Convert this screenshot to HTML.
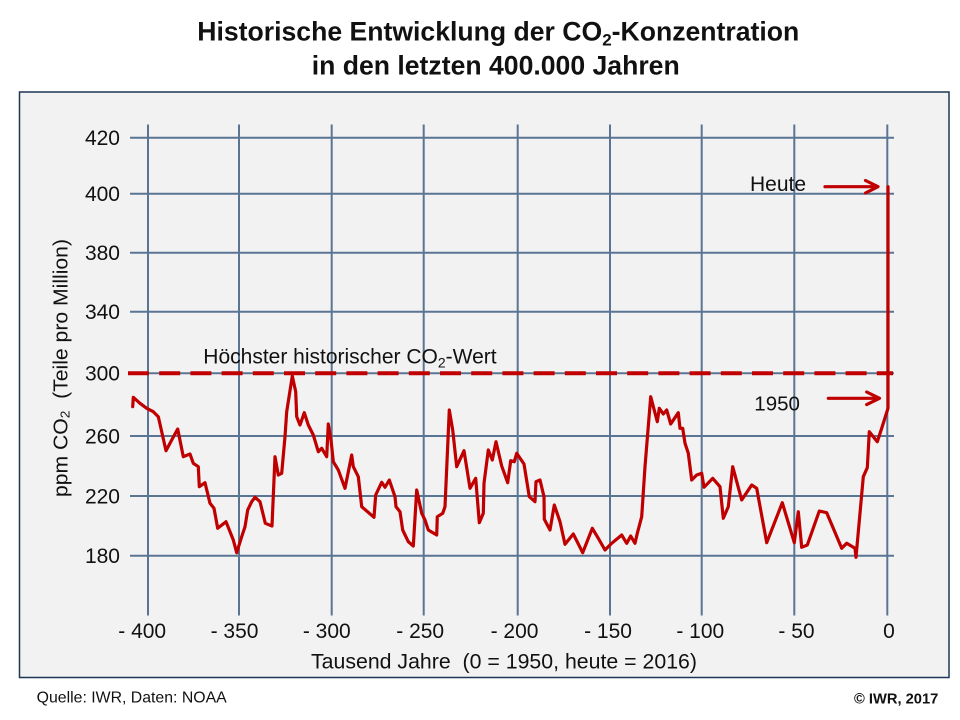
<!DOCTYPE html>
<html><head><meta charset="utf-8"><style>
html,body{margin:0;padding:0;background:#fff;}
svg{display:block;}
text{font-family:"Liberation Sans",Arial,sans-serif;fill:#111;}
</style></head><body>
<svg width="960" height="720" viewBox="0 0 960 720" xmlns="http://www.w3.org/2000/svg">
<rect x="0" y="0" width="960" height="720" fill="#fff"/>
<!-- title -->
<text x="197.3" y="40.7" font-size="26.6" font-weight="bold">Historische Entwicklung der CO<tspan font-size="17" dy="5">2</tspan><tspan dy="-5">-Konzentration</tspan></text>
<text x="311.7" y="74.3" font-size="26.6" font-weight="bold">in den letzten 400.000 Jahren</text>
<!-- frame -->
<rect x="19.5" y="92" width="929.5" height="585.5" fill="#f2f2f2" stroke="#1d3657" stroke-width="1.5"/>
<!-- grid -->
<g stroke="#5a7594" stroke-width="2">
<line x1="130" y1="137.7" x2="894" y2="137.7"/>
<line x1="130" y1="193.7" x2="894" y2="193.7"/>
<line x1="130" y1="252.7" x2="894" y2="252.7"/>
<line x1="130" y1="311.7" x2="894" y2="311.7"/>
<line x1="130" y1="373.3" x2="894" y2="373.3"/>
<line x1="130" y1="436" x2="894" y2="436"/>
<line x1="130" y1="496" x2="894" y2="496"/>
<line x1="130" y1="555.7" x2="894" y2="555.7"/>
<line x1="148" y1="124.5" x2="148" y2="615.5"/>
<line x1="239" y1="124.5" x2="239" y2="615.5"/>
<line x1="331.7" y1="124.5" x2="331.7" y2="615.5"/>
<line x1="423.7" y1="124.5" x2="423.7" y2="615.5"/>
<line x1="517.7" y1="124.5" x2="517.7" y2="615.5"/>
<line x1="610" y1="124.5" x2="610" y2="615.5"/>
<line x1="701.7" y1="124.5" x2="701.7" y2="615.5"/>
<line x1="794.3" y1="124.5" x2="794.3" y2="615.5"/>
<line x1="887.3" y1="124.5" x2="887.3" y2="615.5"/>
</g>
<!-- y tick labels -->
<g font-size="21" text-anchor="end">
<text x="120" y="145">420</text>
<text x="120" y="201">400</text>
<text x="120" y="260">380</text>
<text x="120" y="319">340</text>
<text x="120" y="380.6">300</text>
<text x="120" y="443.3">260</text>
<text x="120" y="503.3">220</text>
<text x="120" y="563">180</text>
</g>
<!-- x tick labels -->
<g font-size="21" text-anchor="middle">
<text x="142.2" y="638">- 400</text>
<text x="234.5" y="638">- 350</text>
<text x="326.8" y="638">- 300</text>
<text x="420.2" y="638">- 250</text>
<text x="514.5" y="638">- 200</text>
<text x="608" y="638">- 150</text>
<text x="700.3" y="638">- 100</text>
<text x="796.5" y="638">- 50</text>
<text x="889" y="638">0</text>
</g>
<text x="311" y="668.3" font-size="21" textLength="386" lengthAdjust="spacingAndGlyphs" xml:space="preserve">Tausend Jahre  (0 = 1950, heute = 2016)</text>
<!-- y axis label -->
<text transform="translate(67.5,497) rotate(-90)" font-size="20" textLength="258" lengthAdjust="spacingAndGlyphs" xml:space="preserve">ppm CO<tspan font-size="13" dy="2">2</tspan><tspan dy="-2">  (Teile pro Million)</tspan></text>
<!-- dashed max line -->
<line x1="128" y1="373.3" x2="893" y2="373.3" stroke="#c00000" stroke-width="4" stroke-dasharray="21 10.2"/>
<text x="203.3" y="363.3" font-size="21">Höchster historischer CO<tspan font-size="14" dy="4">2</tspan><tspan dy="-4">-Wert</tspan></text>
<!-- data -->
<polyline fill="none" stroke="#c00000" stroke-width="3.2" stroke-linejoin="round" stroke-linecap="round" points="
132.7,406.7 133.3,397.3 140,403.3 146.7,408.3 153.3,411.7 158.3,416.7 161.7,431.7 166,450.7 171.7,440 177.7,429 183.3,456.7 190,454 193.3,463.3 198.3,466.7 199.3,486.7 205,482.7 210,503.3 214,508.3 217.7,528.3 226,521.7 230,531.7 233.3,540 236.7,552.7 241.7,536.7 245,526.7 247.7,510 251.7,501.7 255,497.3 260,501.7 265.3,523.3 272,526 275,456.7 278.3,475 281.7,473.3 285,436.7 286.7,411.7 292.3,376 295.7,391.7 296.7,416.7 300,425 304.3,412.7 308.3,425 313.3,435 318.3,451.7 321.7,448.3 326.7,456.7 328.3,424 331,440 333.3,461.7 338.3,470 345,488.3 351.7,455 353.3,466.7 358.3,476.7 361.7,506.7 374,517.3 375.7,495 381.7,482.3 385,487.3 389.3,480 395,496.7 396,506.7 400,511.7 402.7,530 408.3,541.7 413.3,546 416.7,490 421.7,513.3 425,520 428.3,530 436.7,535 437.3,516.7 442.7,513.3 445,506.7 449.3,410 452.7,430 456.7,466.7 464,450.7 470,488.3 475.7,478.3 479.3,522.7 483.3,513.3 484,483.3 488.3,450 492.3,460 496,441.7 501.7,466 507.7,482.7 510.7,460.7 514.3,461.7 516.7,453.3 524,464 529.3,496.7 535,501.7 536,481.7 540,480 544,496.7 544.3,519.3 550,530 554.3,505 560,521.7 565,544.3 573.3,534 582.7,552.7 592.3,528.3 598.3,538.3 605,550 611.7,543.3 621.7,535 626.7,543.3 630.7,536 635,543.3 637.3,533.3 641.7,516.7 645,466.7 650.7,396.7 657.3,421.7 659.3,408.3 663.3,414 666.7,410 670.7,424 678.3,412.7 680,428.3 682.7,428.3 685,443.3 688.3,453.3 691.7,480 696.7,475 701.7,473.3 704,487.3 712.7,478.3 720,486.7 723.3,518.3 728.3,506.7 732.7,466.7 741.7,500 751.7,485 756.7,488.3 766.7,542.7 782.3,502.7 794.3,542.7 798.3,511.7 801.7,547.3 807.3,545 819.3,511 826.7,512.7 841.7,548.3 846.7,543.3 855,548.3 856,557.3 863.3,476.7 867.3,467.7 869.3,431.7 877.3,441.7 881.7,428.3 888,408.3 888,186.7"/>
<!-- annotations -->
<text x="750" y="191" font-size="21">Heute</text>
<g stroke="#c00000" stroke-width="3.2" fill="none" stroke-linecap="round" stroke-linejoin="round">
<line x1="825" y1="186.7" x2="877" y2="186.7"/>
<polyline points="865.5,180.5 878,186.7 865.5,193"/>
<line x1="828.3" y1="398.3" x2="879" y2="398.3"/>
<polyline points="866.7,392 879.5,398.3 866.7,404.6"/>
</g>
<text x="754.3" y="410.7" font-size="20.5">1950</text>
<!-- footer -->
<text x="36.7" y="702.7" font-size="15.8" textLength="190" lengthAdjust="spacingAndGlyphs">Quelle: IWR, Daten: NOAA</text>
<text x="938.3" y="703.3" font-size="14.7" font-weight="bold" text-anchor="end">© IWR, 2017</text>
</svg>
</body></html>
